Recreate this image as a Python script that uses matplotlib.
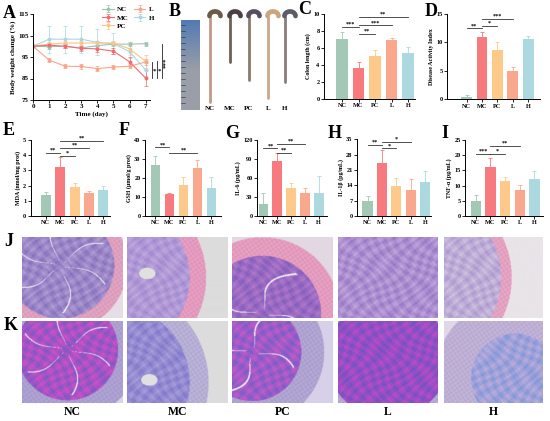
import numpy as np
import matplotlib
matplotlib.use("Agg")
import matplotlib.pyplot as plt

plt.rcParams['font.family'] = ['Liberation Serif', 'DejaVu Serif']
plt.rcParams['font.weight'] = 'bold'
plt.rcParams['axes.labelweight'] = 'bold'

# ---------------- data ----------------
groups = ['NC', 'MC', 'PC', 'L', 'H']
colors = ['#a3c8b5', '#f77b7e', '#fdca8c', '#f9a88e', '#acd9df']
line_colors = ['#9cc4b4', '#f36b70', '#fcc488', '#f7a58b', '#a8d8e0']

days = [0, 1, 2, 3, 4, 5, 6, 7]
bw_NC = [100, 99.8, 100, 99.2, 100.3, 101, 101, 101.2]
bw_MC = [100, 100.5, 100, 99, 98.8, 97.7, 92.8, 85.2]
bw_PC = [100, 101, 101.5, 101.5, 101.5, 101.5, 98.8, 93]
bw_L = [100, 93.6, 90.7, 90.6, 89.6, 90.3, 90.7, 92.7]
bw_H = [100, 103.3, 103.3, 103.3, 101.8, 101.2, 97.5, 89]
bw_err_NC = [0, 1, 1, 1, 1.5, 1, 1, 1]
bw_err_MC = [0, 1, 1, 1, 1.5, 1.5, 2, 3.8]
bw_err_PC = [0, 1, 1, 1, 1, 1, 3, 3]
bw_err_L = [0, 1, 1, 1, 1, 1, 1, 1.5]
bw_err_H = [0, 6.3, 6.3, 6.3, 6, 5, 3, 3]

colon_len = [7.05, 3.7, 5.1, 6.9, 5.45]
colon_err = [0.85, 0.7, 0.65, 0.3, 0.7]
dai = [0.35, 11.0, 8.6, 5.0, 10.6]
dai_err = [0.45, 0.9, 1.5, 0.7, 0.6]
mda = [1.38, 3.25, 1.9, 1.5, 1.7]
mda_err = [0.2, 0.65, 0.3, 0.12, 0.3]
gsh = [26.8, 11.4, 16.2, 25.1, 14.6]
gsh_err = [4.8, 0.9, 4.5, 4.4, 6.1]
il6 = [18.9, 87.4, 43.7, 36.8, 35.8]
il6_err = [16.9, 11.6, 8.9, 6.9, 27.2]
il1b = [7.0, 24.0, 13.8, 11.9, 15.7]
il1b_err = [2.1, 6.1, 3.4, 4.8, 5.0]
tnf = [4.9, 16.2, 11.5, 8.55, 12.1]
tnf_err = [2.0, 2.8, 1.4, 1.65, 2.8]

sig_C = [(0, 1, 8.5, '***'), (1, 2, 7.7, '**'), (1, 3, 8.65, '***'), (1, 4, 9.7, '**')]
sig_D = [(0, 1, 12.5, '**'), (1, 2, 12.9, '*'), (1, 3, 14.2, '***')]
sig_E = [(0, 1, 4.17, '**'), (1, 2, 3.97, '*'), (1, 3, 4.5, '**'), (1, 4, 4.93, '**')]
sig_F = [(0, 1, 36.2, '**'), (1, 3, 33.4, '**')]
sig_G = [(0, 1, 106.8, '**'), (1, 2, 99.9, '**'), (1, 3, 113.7, '**')]
sig_H = [(0, 1, 32.4, '**'), (1, 2, 30.9, '*'), (1, 3, 33.9, '*')]
sig_I = [(0, 1, 20.4, '***'), (1, 2, 20.4, '*'), (1, 3, 23.0, '**')]

# photo sketch (panel B): relative colon lengths in the photo
photo_colon_len = [85, 45, 63, 81, 65]

# ---------------- figure ----------------
W, Hh = 550, 421
fig = plt.figure(figsize=(W / 100, Hh / 100), dpi=100)
fig.patch.set_facecolor('white')


def px_axes(x0, y0, x1, y1):
    return fig.add_axes([x0 / W, 1 - y1 / Hh, (x1 - x0) / W, (y1 - y0) / Hh])


def style(ax, fs=4.5):
    for s in ['top', 'right']:
        ax.spines[s].set_visible(False)
    for s in ['left', 'bottom']:
        ax.spines[s].set_linewidth(0.7)
    ax.tick_params(length=2, width=0.6, labelsize=fs, pad=1.2)
    for lab in ax.get_xticklabels() + ax.get_yticklabels():
        lab.set_fontweight('bold')


def letter(x, y, t):
    fig.text(x / W, 1 - y / Hh, t, fontsize=13, fontweight='bold', ha='center', va='center')


def bar_panel(rect, vals, errs, ylim, yticks, ylabel, xlim, sigs):
    ax = px_axes(*rect)
    x = np.arange(len(groups))
    ax.bar(x, vals, width=0.7, color=colors, zorder=2)
    for xi, v, e, c in zip(x, vals, errs, colors):
        ax.errorbar(xi, v, yerr=[[0], [e]], color=c, capsize=1.5, elinewidth=0.6,
                    capthick=0.6, zorder=1)
    ax.set_xlim(*xlim)
    ax.set_ylim(*ylim)
    ax.set_yticks(yticks)
    ax.set_xticks(x)
    ax.set_xticklabels(groups)
    ax.set_ylabel(ylabel, fontsize=4.3, labelpad=1.5)
    for a, b, y, s in sigs:
        ax.plot([a, b], [y, y], color='#333333', lw=0.6, clip_on=False)
        ax.text((a + b) / 2, y, s, ha='center', va='bottom', fontsize=4.5,
                fontweight='bold', clip_on=False)
    style(ax)
    return ax


# ---------------- A ----------------
axA = px_axes(33, 14, 150, 100)
series = [bw_NC, bw_MC, bw_PC, bw_L, bw_H]
errsA = [bw_err_NC, bw_err_MC, bw_err_PC, bw_err_L, bw_err_H]
order = [4, 0, 2, 3, 1]
handles = [None] * 5
for i in order:
    h = axA.errorbar(days, series[i], yerr=errsA[i], color=line_colors[i], marker='o', ms=1.8,
                     lw=0.8, elinewidth=0.5, capsize=1.2, capthick=0.5)
    handles[i] = h
axA.set_xlim(0, 7.27)
axA.set_ylim(75, 115)
axA.set_xticks(days)
axA.set_yticks([75, 85, 95, 105, 115])
axA.set_xlabel('Time (day)', fontsize=5, labelpad=1.5)
axA.set_ylabel('Body weight change (%)', fontsize=5, labelpad=1.5)
style(axA, fs=5)
leg = axA.legend(handles, groups, ncol=2, loc='upper left', bbox_to_anchor=(0.57, 1.12),
                 frameon=False, fontsize=5, handlelength=1.6, labelspacing=0.35,
                 columnspacing=0.8, handletextpad=0.5, borderaxespad=0)
for t in leg.get_texts():
    t.set_fontweight('bold')
brackets = [(7.39, bw_L[7], bw_MC[7]), (7.70, bw_PC[7], bw_MC[7]), (8.01, bw_NC[7], bw_MC[7])]
for xb, y1, y2 in brackets:
    axA.plot([xb, xb], [y1, y2], color='#222222', lw=0.6, clip_on=False)
axA.text(7.55, 88.5, '*', fontsize=5, ha='center', va='center', clip_on=False)
axA.text(7.86, 88.5, '*', fontsize=5, ha='center', va='center', clip_on=False)
axA.text(8.28, 92.5, '***', fontsize=5, ha='center', va='center', rotation=90, clip_on=False)

# ---------------- B (photo sketch) ----------------
axB = px_axes(170, 5, 300, 115)
grad = np.linspace(0, 1, 60)[:, None] * np.ones((1, 8))
ruler = np.zeros((60, 8, 3))
top = np.array([0.33, 0.48, 0.70])
bot = np.array([0.60, 0.62, 0.66])
for k in range(3):
    w = np.clip(grad * 1.8, 0, 1)
    ruler[:, :, k] = top[k] * (1 - w) + bot[k] * w
axB.imshow(ruler, extent=[11, 30, 105, 15], aspect='auto', zorder=1)
for yt in np.arange(20, 104, 6):
    axB.plot([11, 15], [yt, yt], color='#2a2a3a', lw=0.4, zorder=2)
colon_x = [40, 60, 79, 98, 115]
colon_body = ['#c09a86', '#6e6058', '#8a7a6c', '#c8a98a', '#8a7c7a']
colon_head = ['#6b5a45', '#4b4043', '#555060', '#c9a67e', '#5e5a66']
th = np.linspace(np.pi, 2 * np.pi, 30)
for xc, ln, cb, ch, g in zip(colon_x, photo_colon_len, colon_body, colon_head, groups):
    axB.plot([xc, xc], [12, 12 + ln], color=cb, lw=2.0, solid_capstyle='round', zorder=3)
    axB.plot(xc + 5 + 5.5 * np.cos(th), 11 + 4.5 * np.sin(th), color=ch, lw=3.4,
             solid_capstyle='round', zorder=4)
    axB.text(xc, 103, g, fontsize=5, fontweight='bold', ha='center', va='center')
axB.set_xlim(0, 130)
axB.set_ylim(110, 0)
axB.axis('off')

# ---------------- bar panels ----------------
bar_panel((324, 14, 415, 99), colon_len, colon_err, (0, 10), [0, 2, 4, 6, 8, 10],
          'Colon length (cm)', (-1.09, 4.42), sig_C)
bar_panel((447, 14, 540, 99.3), dai, dai_err, (0, 15), [0, 5, 10, 15],
          'Disease Activity Index', (-1.27, 4.77), sig_D)
bar_panel((30.7, 140, 110, 216), mda, mda_err, (0, 5), [0, 1, 2, 3, 4, 5],
          'MDA (nmol/mg prot)', (-1.05, 4.46), sig_E)
bar_panel((145, 140, 221, 216), gsh, gsh_err, (0, 40), [0, 10, 20, 30, 40],
          'GSH (μmol/g prot)', (-0.75, 4.68), sig_F)
bar_panel((257, 140, 327, 216), il6, il6_err, (0, 120), [0, 30, 60, 90, 120],
          'IL-6 (pg/mL)', (-0.47, 4.6), sig_G)
bar_panel((357, 139.3, 431, 216), il1b, il1b_err, (0, 35), [0, 7, 14, 21, 28, 35],
          'IL-1β (pg/mL)', (-0.73, 4.41), sig_H)
bar_panel((465, 140, 543, 216), tnf, tnf_err, (0, 25), [0, 5, 10, 15, 20, 25],
          'TNF-α (pg/mL)', (-0.73, 4.58), sig_I)

# ---------------- histology sketches ----------------
def hexrgb(h):
    h = h.lstrip('#')
    return np.array([int(h[i:i + 2], 16) / 255 for i in (0, 2, 4)])


def tissue(p):
    hgt, wid = 164, 202
    v, u = np.mgrid[0:hgt, 0:wid]
    u = u / (wid - 1)
    v = v / (hgt - 1)
    cx, cy, r1, r2 = p['c']
    r = np.hypot((u - cx) * 1.23, v - cy)
    theta = np.arctan2(v - cy, u - cx)
    t1 = np.sin(47 * u + 3 * np.sin(9 * v)) * np.sin(39 * v + 3 * np.sin(7 * u))
    t2 = np.sin(121 * u + 17 * v) * np.sin(97 * v - 23 * u)
    tex = np.clip(0.5 + 0.35 * t1 + 0.12 * t2, 0, 1)[..., None]
    muc = hexrgb(p['m1']) * (1 - tex) + hexrgb(p['m2']) * tex
    fine = (0.95 + 0.05 * t2)[..., None]
    img = np.empty((hgt, wid, 3))
    img[:] = hexrgb(p['bg'])
    band = (r >= r1) & (r < r2)
    bandc = hexrgb(p['band']) * fine
    img[band] = bandc[band]
    inner = r < r1
    img[inner] = muc[inner]
    light = np.array([0.94, 0.92, 0.95])
    if p.get('folds'):
        fold = ((np.abs(np.sin(p['folds'] * (theta - 0.4) + 0.6 * np.sin(6 * r))) < 0.05)
                & (r < r1 * 0.9) & (r > 0.06))
        img[fold] = light
    if p.get('lumen'):
        lx, ly, lr = p['lumen']
        lm = np.hypot((u - lx) * 1.23, (v - ly) * 1.4) < lr
        img[lm] = np.array([0.88, 0.88, 0.88])
    return np.clip(img, 0, 1)


cols_x = [(22, 123), (127, 228), (232, 333), (338, 438), (444, 543)]
rowJ = [
    dict(c=(0.38, 0.35, 0.66, 0.82), m1='#7f6cb8', m2='#b8a2d8', band='#eaa8c8', bg='#e6dde6', folds=3),
    dict(c=(-0.15, 0.5, 0.95, 1.15), m1='#9c84cc', m2='#c4aee0', band='#f0a2c8', bg='#dcdcdc', lumen=(0.2, 0.45, 0.1)),
    dict(c=(0.3, 0.95, 0.72, 0.95), m1='#7c5aba', m2='#b87ccc', band='#f0a4c8', bg='#e2d8e2', folds=2),
    dict(c=(0.45, 0.5, 1.2, 1.3), m1='#9072c2', m2='#c8acdf', band='#d8c4e4', bg='#e4e0e8'),
    dict(c=(-0.25, 0.5, 1.02, 1.15), m1='#a892cc', m2='#d4c8e2', band='#f0aacb', bg='#e8e4e8'),
]
rowK = [
    dict(c=(0.45, 0.35, 0.62, 0.88), m1='#e04cc8', m2='#6e5cc2', band='#b4a8dc', bg='#d8d4e8', folds=3),
    dict(c=(-0.15, 0.75, 0.95, 1.18), m1='#7c72c8', m2='#aca4dc', band='#c0b8e0', bg='#dcdcdc', lumen=(0.22, 0.72, 0.1)),
    dict(c=(0.2, 0.38, 0.6, 0.88), m1='#6c5ec8', m2='#d05ac8', band='#b8acdc', bg='#d8d0e8', folds=2),
    dict(c=(0.5, 0.45, 0.75, 0.98), m1='#c84ac8', m2='#6654c2', band='#c0b0dc', bg='#dcd4e8'),
    dict(c=(0.72, 0.7, 0.55, 1.0), m1='#7894d8', m2='#c6b0dc', band='#c8b8e0', bg='#e0d8e8'),
]
for (x0, x1), pj, pk in zip(cols_x, rowJ, rowK):
    a1 = px_axes(x0, 237, x1, 318)
    a1.imshow(tissue(pj), aspect='auto', interpolation='bilinear')
    a1.axis('off')
    a2 = px_axes(x0, 321, x1, 403)
    a2.imshow(tissue(pk), aspect='auto', interpolation='bilinear')
    a2.axis('off')
for (x0, x1), g in zip(cols_x, groups):
    fig.text((x0 + x1) / 2 / W, 1 - 412 / Hh, g, fontsize=8.5, fontweight='bold',
             ha='center', va='center')

# ---------------- panel letters ----------------
letter(9, 13, 'A')
letter(175, 12, 'B')
letter(305, 10, 'C')
letter(431, 11, 'D')
letter(9, 131, 'E')
letter(124, 131, 'F')
letter(232, 133, 'G')
letter(335, 133, 'H')
letter(445, 133, 'I')
letter(9, 242, 'J')
letter(11, 326, 'K')

fig.savefig('out.png', dpi=100, facecolor='white')
